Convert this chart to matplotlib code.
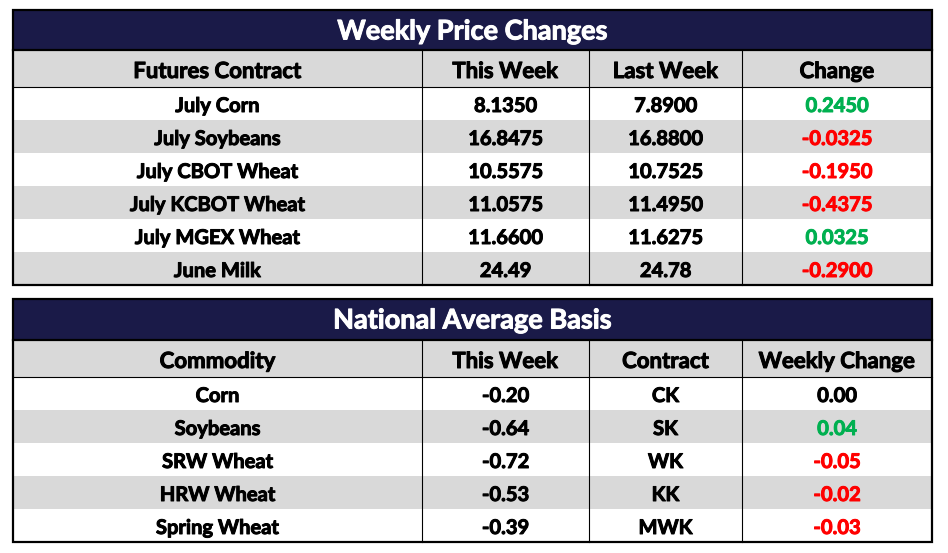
import matplotlib
matplotlib.use("Agg")
import matplotlib.pyplot as plt
import matplotlib.patheffects as pe
from matplotlib.patches import Rectangle

# ---- data -------------------------------------------------------------
price_title = "Weekly Price Changes"
price_header = ["Futures Contract", "This Week", "Last Week", "Change"]
price_contract = ["July Corn", "July Soybeans", "July CBOT Wheat",
                  "July KCBOT Wheat", "July MGEX Wheat", "June Milk"]
price_this = ["8.1350", "16.8475", "10.5575", "11.0575", "11.6600", "24.49"]
price_last = ["7.8900", "16.8800", "10.7525", "11.4950", "11.6275", "24.78"]
price_change = ["0.2450", "-0.0325", "-0.1950", "-0.4375", "0.0325", "-0.2900"]

basis_title = "National Average Basis"
basis_header = ["Commodity", "This Week", "Contract", "Weekly Change"]
basis_commodity = ["Corn", "Soybeans", "SRW Wheat", "HRW Wheat", "Spring Wheat"]
basis_this = ["-0.20", "-0.64", "-0.72", "-0.53", "-0.39"]
basis_contract = ["CK", "SK", "WK", "KK", "MWK"]
basis_change = ["0.00", "0.04", "-0.05", "-0.02", "-0.03"]

# ---- style ------------------------------------------------------------
NAVY = "#1a1a48"
GRAY = "#d9d9d9"
GREEN = "#00b050"
RED = "#ff0000"
FONT = "Lato"
COL_X = [13, 422, 589, 742, 932]
ROW_H = 33


def change_color(s):
    v = float(s)
    if v > 0:
        return GREEN
    if v < 0:
        return RED
    return "black"


def put(ax, x, y, s, size, color="black"):
    # thicken Lato bold a touch to get closer to the heavier original face
    ax.text(x, y, s, fontsize=size, fontweight="bold", family=FONT,
            ha="center", va="baseline", color=color,
            path_effects=[pe.withStroke(linewidth=0.7, foreground=color)])


def draw_table(ax, top, title, header, columns, title_h=40, head_h=37):
    x0, x1 = COL_X[0], COL_X[-1]
    n = len(columns[0])
    y_head = top + title_h
    y_rows = y_head + head_h
    bottom = y_rows + n * ROW_H

    ax.add_patch(Rectangle((x0, top), x1 - x0, title_h, color=NAVY, lw=0))
    ax.add_patch(Rectangle((x0, y_head), x1 - x0, head_h, color=GRAY, lw=0))
    for i in range(n):
        fc = "white" if i % 2 == 0 else GRAY
        ax.add_patch(Rectangle((x0, y_rows + i * ROW_H), x1 - x0, ROW_H,
                               color=fc, lw=0))

    put(ax, (x0 + x1) / 2, top + 29.5, title, 19.5, "white")
    for j, h in enumerate(header):
        cx = (COL_X[j] + COL_X[j + 1]) / 2
        put(ax, cx, y_head + 28, h, 16)
        for i, val in enumerate(columns[j]):
            color = change_color(val) if j == 3 else "black"
            put(ax, cx, y_rows + i * ROW_H + 25, val, 14.5, color)

    # grid lines
    ax.plot([x0, x1], [y_rows, y_rows], color="black", lw=0.8)
    for xc in COL_X[1:-1]:
        ax.plot([xc, xc], [y_head, bottom], color="black", lw=0.8)
    ax.plot([x0, x1], [y_head, y_head], color="black", lw=1.6)
    ax.add_patch(Rectangle((x0, top), x1 - x0, bottom - top, fill=False,
                           ec="black", lw=1.6))


fig = plt.figure(figsize=(9.48, 5.53), dpi=100)
ax = fig.add_axes([0, 0, 1, 1])
ax.set_xlim(0, 948)
ax.set_ylim(553, 0)
ax.axis("off")

draw_table(ax, 10, price_title, price_header,
           [price_contract, price_this, price_last, price_change])
draw_table(ax, 299, basis_title, basis_header,
           [basis_commodity, basis_this, basis_contract, basis_change],
           title_h=41)

fig.savefig("out.png", dpi=100)
